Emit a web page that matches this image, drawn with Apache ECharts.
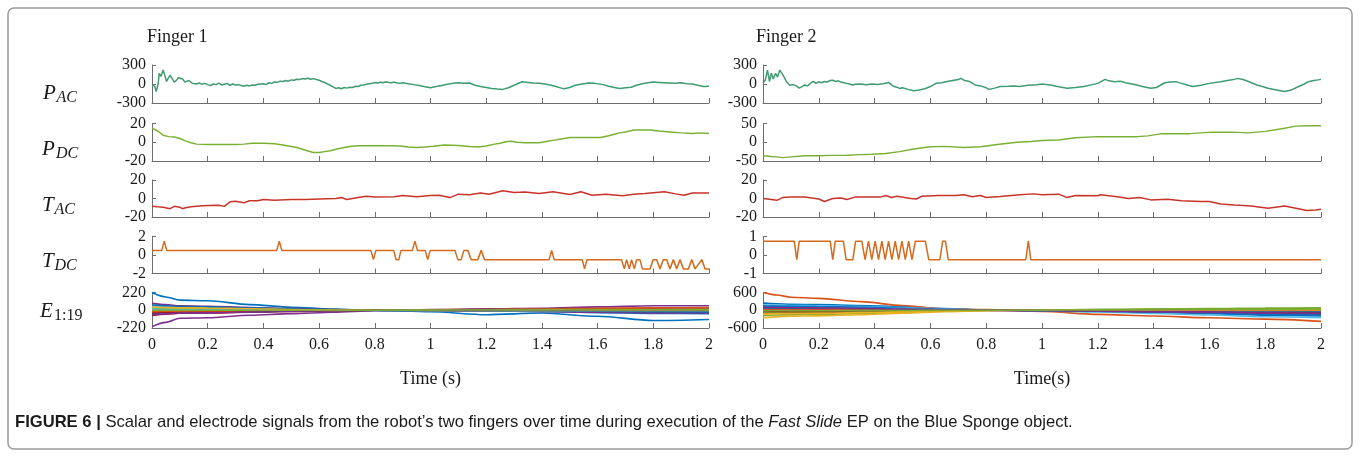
<!DOCTYPE html>
<html>
<head>
<meta charset="utf-8">
<script src="https://cdn.jsdelivr.net/npm/echarts@6.0.0/dist/echarts.min.js"></script>
<style>
  html, body { margin: 0; padding: 0; background: #fff; }
  #chart { width: 1360px; height: 457px; }
</style>
</head>
<body>
<div id="chart"></div>
<script>
// ---- data: [time (s), value] ----
var f1Pac = [[0,0],[0.01,-40],[0.015,-120],[0.022,0],[0.026,170],[0.032,120],[0.04,220],[0.047,120],[0.052,40],[0.058,90],[0.065,140],[0.072,90],[0.08,30],[0.088,60],[0.095,100],[0.102,70],[0.11,80],[0.118,30],[0.125,40],[0.132,55],[0.138,50],[0.145,10],[0.152,20],[0.16,0],[0.17,15],[0.18,-5],[0.19,10],[0.2,-10],[0.21,-25],[0.22,0],[0.23,-10],[0.24,15],[0.25,-15],[0.26,-5],[0.27,10],[0.28,-20],[0.29,0],[0.3,-15],[0.31,-10],[0.32,-25],[0.33,-35],[0.34,-20],[0.35,-30],[0.36,-15],[0.37,-20],[0.38,-5],[0.39,0],[0.4,5],[0.41,-10],[0.42,20],[0.43,10],[0.44,35],[0.45,25],[0.46,45],[0.47,40],[0.48,55],[0.49,45],[0.5,65],[0.51,60],[0.52,75],[0.53,70],[0.54,85],[0.55,80],[0.56,90],[0.57,75],[0.58,85],[0.59,70],[0.6,60],[0.61,40],[0.62,25],[0.63,0],[0.64,-20],[0.65,-45],[0.66,-70],[0.67,-60],[0.68,-75],[0.69,-55],[0.7,-65],[0.71,-50],[0.72,-55],[0.73,-35],[0.74,-40],[0.75,-20],[0.76,-15],[0.77,-5],[0.78,5],[0.79,10],[0.8,25],[0.81,15],[0.82,30],[0.83,20],[0.84,35],[0.85,25],[0.86,20],[0.87,30],[0.88,15],[0.89,10],[0.9,20],[0.92,5],[0.94,-10],[0.96,-25],[0.98,-45],[1.0,-60],[1.02,-40],[1.04,-25],[1.06,-5],[1.08,10],[1.1,20],[1.12,10],[1.14,15],[1.16,-20],[1.18,-40],[1.2,-55],[1.22,-70],[1.24,-80],[1.26,-85],[1.28,-60],[1.3,-20],[1.32,20],[1.33,35],[1.35,25],[1.37,15],[1.39,10],[1.41,0],[1.43,-15],[1.45,-40],[1.47,-65],[1.48,-75],[1.5,-55],[1.52,-20],[1.55,5],[1.57,15],[1.59,10],[1.62,-10],[1.64,-35],[1.66,-55],[1.68,-70],[1.7,-60],[1.72,-50],[1.74,-20],[1.76,5],[1.78,20],[1.8,30],[1.82,25],[1.84,20],[1.86,15],[1.88,10],[1.9,20],[1.92,5],[1.94,0],[1.96,-20],[1.98,-40],[2.0,-35]];

var f1Pdc = [[0,15],[0.02,12],[0.04,7.5],[0.06,6],[0.08,5.5],[0.1,4],[0.12,1.5],[0.14,-0.5],[0.16,-2],[0.2,-2.5],[0.25,-2.5],[0.3,-2.5],[0.33,-2],[0.36,-1],[0.4,-1],[0.44,-1.5],[0.47,-3],[0.5,-4.5],[0.52,-5.6],[0.54,-7.5],[0.56,-9.4],[0.58,-11],[0.6,-11],[0.62,-10],[0.64,-9],[0.66,-7.5],[0.69,-5.5],[0.71,-4.5],[0.74,-3.7],[0.8,-3.7],[0.85,-3.7],[0.89,-4],[0.92,-5],[0.95,-5.6],[0.98,-5],[1.01,-4.2],[1.05,-3],[1.1,-3.5],[1.14,-4.5],[1.17,-5],[1.2,-4],[1.23,-2],[1.25,-1],[1.27,0.5],[1.29,1],[1.31,0],[1.34,-0.5],[1.39,-0.5],[1.42,1],[1.44,2],[1.47,3.5],[1.5,5],[1.55,5],[1.61,5],[1.64,7],[1.66,8.6],[1.68,10],[1.7,11],[1.73,13],[1.76,13],[1.79,13],[1.82,12],[1.86,11],[1.9,10],[1.94,9.4],[1.97,10],[2.0,9.4]];

var f1Tac = [[0,-8.4],[0.02,-9],[0.04,-9.5],[0.065,-11],[0.08,-8.5],[0.1,-9.5],[0.11,-11],[0.12,-10],[0.14,-9],[0.17,-8],[0.2,-7.5],[0.24,-7.3],[0.26,-8.5],[0.28,-3.6],[0.3,-3],[0.33,-4.7],[0.35,-2.5],[0.38,-2.5],[0.4,-1],[0.44,-1.8],[0.5,-1],[0.55,-1.2],[0.6,-0.5],[0.66,0],[0.68,1],[0.7,-1],[0.74,1],[0.77,2.5],[0.8,1.5],[0.87,2],[0.9,3.3],[0.95,2],[1.0,3.3],[1.03,3.6],[1.07,1],[1.1,4.7],[1.14,4],[1.18,6],[1.21,4.5],[1.26,8.4],[1.3,6.5],[1.34,7],[1.39,5.5],[1.44,7.3],[1.5,4.4],[1.54,7.3],[1.58,3.6],[1.63,4.5],[1.69,3],[1.73,4.5],[1.77,5.5],[1.84,7.3],[1.88,5],[1.91,3.6],[1.94,6],[1.97,6],[2.0,6]];

var f1Tdc = [[0,0.5],[0.035,0.5],[0.044,1.5],[0.053,0.5],[0.448,0.5],[0.457,1.5],[0.466,0.5],[0.786,0.5],[0.795,-0.5],[0.804,0.5],[0.868,0.5],[0.876,-0.5],[0.886,-0.5],[0.894,0.5],[0.935,0.5],[0.944,1.5],[0.953,0.5],[0.981,0.5],[0.99,-0.5],[0.999,0.5],[1.088,0.5],[1.098,-0.5],[1.11,-0.5],[1.12,0.5],[1.134,0.5],[1.146,-0.5],[1.17,-0.5],[1.182,0.5],[1.194,-0.5],[1.426,-0.5],[1.435,0.5],[1.444,-0.5],[1.545,-0.5],[1.553,-1.5],[1.562,-0.5],[1.686,-0.5],[1.696,-1.5],[1.704,-0.5],[1.714,-1.5],[1.722,-0.5],[1.732,-1.5],[1.74,-0.5],[1.752,-0.5],[1.761,-1.5],[1.788,-1.5],[1.8,-0.5],[1.812,-0.5],[1.824,-1.5],[1.836,-0.5],[1.848,-0.5],[1.86,-1.5],[1.872,-0.5],[1.884,-1.5],[1.896,-0.5],[1.908,-1.5],[1.926,-1.5],[1.938,-0.5],[1.95,-1.5],[1.974,-0.5],[1.986,-1.5],[2.0,-1.5]];

var f2Pac = [[0,20],[0.008,60],[0.016,220],[0.023,40],[0.03,170],[0.037,80],[0.045,170],[0.052,110],[0.06,220],[0.066,180],[0.072,140],[0.078,90],[0.084,40],[0.09,10],[0.096,-20],[0.102,-40],[0.108,-10],[0.114,0],[0.12,-30],[0.13,-65],[0.14,-40],[0.15,-15],[0.16,-30],[0.17,10],[0.18,40],[0.19,10],[0.2,35],[0.21,20],[0.22,40],[0.23,30],[0.24,55],[0.25,60],[0.26,40],[0.27,50],[0.28,30],[0.29,20],[0.3,10],[0.31,0],[0.32,-15],[0.33,-5],[0.35,0],[0.37,-10],[0.39,0],[0.41,-8],[0.43,5],[0.45,25],[0.46,-10],[0.47,-40],[0.48,-50],[0.49,-70],[0.5,-60],[0.52,-85],[0.54,-105],[0.56,-95],[0.58,-75],[0.6,-40],[0.62,10],[0.64,20],[0.66,40],[0.68,55],[0.7,70],[0.71,90],[0.72,60],[0.74,40],[0.76,-15],[0.78,-30],[0.8,-60],[0.81,-85],[0.83,-65],[0.85,-40],[0.88,-35],[0.9,-30],[0.92,-40],[0.95,-20],[0.98,-10],[1.0,0],[1.03,-15],[1.06,-45],[1.09,-68],[1.12,-55],[1.15,-40],[1.18,-10],[1.2,10],[1.226,73],[1.24,50],[1.26,37],[1.28,45],[1.3,20],[1.34,-15],[1.36,-40],[1.39,-68],[1.41,-55],[1.44,20],[1.46,30],[1.48,37],[1.5,10],[1.52,-15],[1.54,-40],[1.57,-20],[1.6,10],[1.64,37],[1.67,60],[1.69,73],[1.7,89],[1.72,70],[1.74,40],[1.77,-15],[1.79,-40],[1.81,-68],[1.84,-94],[1.87,-120],[1.89,-100],[1.92,-40],[1.94,0],[1.955,37],[1.97,50],[1.99,65],[2.0,73]];

var f2Pdc = [[0,-36],[0.03,-38],[0.05,-39],[0.07,-41],[0.1,-39],[0.15,-36],[0.2,-36],[0.24,-35],[0.3,-34.5],[0.35,-33],[0.39,-32],[0.44,-30],[0.49,-25],[0.54,-18],[0.6,-12],[0.65,-11],[0.72,-14],[0.78,-12],[0.84,-6],[0.91,0],[0.96,2],[1.0,4.5],[1.06,6],[1.12,12],[1.2,15],[1.27,15],[1.34,15],[1.38,17],[1.43,23],[1.53,23],[1.61,27],[1.68,27],[1.74,25],[1.8,29],[1.86,36],[1.91,43],[1.95,44],[2.0,44]];

var f2Tac = [[0,0],[0.03,-1],[0.05,-2],[0.07,1],[0.1,1.5],[0.15,1.5],[0.2,-0.5],[0.22,-3.3],[0.25,0],[0.28,0.5],[0.3,-1],[0.33,1.5],[0.38,1.5],[0.42,1.5],[0.44,3.3],[0.46,1],[0.48,2.5],[0.53,0],[0.55,-0.5],[0.57,2.5],[0.63,3.3],[0.69,3.3],[0.72,4],[0.75,2],[0.78,3.3],[0.8,1],[0.85,2.2],[0.92,4],[0.97,5],[1.0,4],[1.06,4.7],[1.09,1],[1.12,3.3],[1.2,3],[1.21,4],[1.27,2],[1.31,0],[1.35,1],[1.39,-1.5],[1.45,-0.8],[1.5,-2.5],[1.57,-3.3],[1.6,-3.3],[1.64,-6],[1.69,-7],[1.75,-8],[1.81,-10.5],[1.87,-8],[1.91,-10.5],[1.95,-13],[1.98,-12.5],[2.0,-11.5]];

var f2Tdc = [[0,0.75],[0.112,0.75],[0.121,-0.25],[0.13,0.75],[0.241,0.75],[0.25,-0.25],[0.259,0.75],[0.288,0.75],[0.298,-0.25],[0.322,-0.25],[0.332,0.75],[0.354,0.75],[0.366,-0.25],[0.378,0.75],[0.39,-0.25],[0.402,0.75],[0.414,-0.25],[0.426,0.75],[0.438,-0.25],[0.45,0.75],[0.462,-0.25],[0.474,0.75],[0.486,-0.25],[0.498,0.75],[0.51,-0.25],[0.522,0.75],[0.534,-0.25],[0.546,0.75],[0.582,0.75],[0.594,-0.25],[0.634,-0.25],[0.644,0.75],[0.654,0.75],[0.664,-0.25],[0.942,-0.25],[0.951,0.75],[0.96,-0.25],[2.0,-0.25]];

// electrode signals, sampled at elecTime
var elecTime = [0, 0.05, 0.1, 0.2, 0.35, 0.5, 0.65, 0.8, 1.0, 1.2, 1.4, 1.6, 1.8, 2.0];
var f1Elec = [
  [220, 165, 125, 118, 70, 38, 14, 0, -18, -55, -35, -75, -127, -114],
  [20, 15, 12, 10, 8, 5, 2, 0, 3, 8, 12, 18, 25, 28],
  [-10, -8, -5, -4, -2, -1, 0, 0, 2, 5, 8, 10, 12, 14],
  [-203, -150, -100, -93, -62, -42, -25, -5, 8, 17, 25, 42, 55, 55],
  [30, 25, 22, 20, 14, 8, 3, 0, 2, 4, 6, 8, 9, 10],
  [55, 45, 40, 38, 25, 15, 5, 0, -3, -6, -8, -10, -12, -12],
  [-65, -50, -38, -35, -25, -15, -6, 0, -2, -4, -6, -8, -8, -8],
  [-45, -35, -28, -25, -18, -10, -4, 0, -5, -10, -15, -30, -40, -42],
  [5, 4, 3, 3, 2, 1, 0, 0, 5, 10, 15, 25, 30, 32],
  [10, 8, 7, 6, 4, 2, 1, 0, 1, 3, 5, 6, 7, 8],
  [85, 70, 55, 50, 35, 20, 8, 0, -5, -10, -15, -25, -32, -33],
  [-25, -20, -15, -14, -10, -6, -2, 0, 1, 3, 5, 10, 15, 17],
  [15, 12, 10, 9, 6, 3, 1, 0, -2, -4, -5, -6, -6, -5],
  [-35, -28, -22, -20, -14, -8, -3, 0, 2, 4, 5, 6, 6, 6],
  [65, 55, 45, 42, 28, 16, 6, 0, -2, -5, -7, -12, -18, -20],
  [-15, -12, -10, -9, -6, -3, -1, 0, 3, 6, 10, 15, 20, 22],
  [40, 35, 30, 28, 18, 10, 4, 0, -1, -2, -3, -3, -2, -2],
  [-55, -45, -35, -32, -22, -12, -5, 0, 0, 2, 4, 6, 8, 8],
  [0, 0, 0, 0, 0, 0, 0, 0, 2, 4, 5, 6, 7, 8]
];
var f2Elec = [
  [240, 220, 200, 190, 160, 120, 60, 10, -10, -40, -70, -120, -170, -196],
  [600, 515, 440, 400, 290, 160, 45, 20, -40, -140, -196, -255, -300, -375],
  [-100, -90, -80, -75, -55, -35, -15, 0, 5, 10, 15, 18, 20, 22],
  [130, 120, 110, 105, 85, 60, 25, 5, -5, -10, -15, -20, -30, -33],
  [-175, -160, -150, -140, -110, -75, -35, -5, 5, 20, 35, 45, 52, 55],
  [185, 170, 160, 150, 125, 90, 45, 10, -20, -60, -110, -160, -220, -250],
  [-87, -80, -75, -70, -55, -35, -15, 0, -10, -30, -50, -80, -120, -142],
  [150, 140, 130, 125, 100, 70, 35, 5, -10, -30, -55, -90, -140, -160],
  [-40, -35, -30, -28, -20, -12, -5, 0, 0, 2, 3, 5, 6, 6],
  [-250, -225, -200, -190, -150, -100, -50, -10, 5, 15, 20, 22, 22, 22],
  [44, 40, 36, 34, 26, 18, 8, 0, -10, -25, -45, -65, -80, -87],
  [-60, -55, -50, -45, -35, -22, -10, 0, 10, 25, 40, 55, 75, 80],
  [90, 85, 80, 75, 60, 40, 20, 3, -5, -15, -25, -40, -55, -60],
  [-33, -30, -27, -25, -18, -10, -4, 0, -5, -15, -25, -40, -60, -70],
  [60, 55, 50, 48, 38, 25, 12, 2, -5, -12, -20, -30, -40, -45],
  [20, 18, 16, 15, 10, 6, 2, 0, 0, -2, -3, -5, -6, -8],
  [-130, -120, -110, -105, -80, -55, -25, -5, 3, 8, 12, 15, 16, 18],
  [100, 90, 85, 80, 62, 42, 20, 3, -10, -25, -40, -55, -95, -110],
  [-20, -18, -16, -15, -10, -6, -2, 0, 5, 12, 20, 30, 38, 42]
];

// y limits per row: [finger 1, finger 2]
var yLimits = [[300, 300], [20, 50], [20, 20], [2, 1], [220, 600]];
var rowNames = ['P', 'P', 'T', 'T', 'E'];
var rowSubs = ['AC', 'DC', 'AC', 'DC', '1:19'];
var fingerTitles = ['Finger 1', 'Finger 2'];
var timeTitles = ['Time (s)', 'Time(s)'];
var caption = ['FIGURE 6 |', ' Scalar and electrode signals from the robot\u2019s two fingers over time during execution of the ', 'Fast Slide', ' EP on the Blue Sponge object.'];

// ---- layout ----
var SERIF = "'Liberation Serif', 'Times New Roman', serif";
var SANS = "'Liberation Sans', Arial, sans-serif";
var AXIS = '#6e6e6e';
var colLeft = [152, 763];
var colWidth = [557, 558];
var rowTop = [65, 123.5, 180, 236.5, 292.5];
var rowHeight = [38, 37.5, 37, 37, 35.5];
var rowColors = ['#3f9b70', '#7ab034', '#c8342a', '#d56a1c'];
var matlabColors = ['#0072BD', '#D95319', '#EDB120', '#7E2F8E', '#77AC30', '#4DBEEE', '#A2142F'];
var scalars = [[f1Pac, f1Pdc, f1Tac, f1Tdc], [f2Pac, f2Pdc, f2Tac, f2Tdc]];
var elecs = [f1Elec, f2Elec];

var grids = [], xAxes = [], yAxes = [], series = [];

for (var c = 0; c < 2; c++) {
  for (var r = 0; r < 5; r++) {
    var idx = grids.length;
    var bottom = r === 4;
    var lim = yLimits[r][c];
    grids.push({
      left: colLeft[c], top: rowTop[r], width: colWidth[c], height: rowHeight[r],
      outerBoundsMode: 'none', containLabel: false
    });
    xAxes.push({
      gridIndex: idx, type: 'value', min: 0, max: 2, interval: 0.2,
      axisLine: { show: true, onZero: false, lineStyle: { color: AXIS, width: 1 } },
      axisTick: { show: true, inside: true, length: 5, lineStyle: { color: AXIS } },
      axisLabel: { show: bottom, margin: 9, color: '#1a1a1a', fontFamily: SERIF, fontSize: 16 },
      splitLine: { show: false }
    });
    yAxes.push({
      gridIndex: idx, type: 'value', min: -lim, max: lim, interval: lim,
      axisLine: { show: true, onZero: false, lineStyle: { color: AXIS, width: 1 } },
      axisTick: { show: true, inside: true, length: 4, lineStyle: { color: AXIS } },
      axisLabel: { show: true, margin: 6, color: '#1a1a1a', fontFamily: SERIF, fontSize: 16 },
      splitLine: { show: false }
    });
    if (r < 4) {
      series.push({
        type: 'line', xAxisIndex: idx, yAxisIndex: idx, data: scalars[c][r],
        showSymbol: false, symbol: 'none', silent: true,
        lineStyle: { color: rowColors[r], width: 1.5 }, itemStyle: { color: rowColors[r] }
      });
    } else {
      elecs[c].forEach(function (vals, k) {
        var col = matlabColors[k % matlabColors.length];
        series.push({
          type: 'line', xAxisIndex: idx, yAxisIndex: idx,
          data: elecTime.map(function (t, j) { return [t, vals[j]]; }),
          showSymbol: false, symbol: 'none', silent: true, smooth: 0.3, smoothMonotone: 'x',
          lineStyle: { color: col, width: 1.6 }, itemStyle: { color: col }
        });
      });
    }
  }
}

var graphics = [
  { type: 'rect', shape: { x: 8, y: 8, width: 1344, height: 441, r: 6 },
    style: { fill: 'none', stroke: '#9a9a9a', lineWidth: 1.5 }, silent: true }
];
var labelX = [43, 42, 42, 42, 40];
var subX = [56.5, 56, 54.5, 54.5, 54];
var labelY = [93.3, 149, 205.5, 261.7, 311.7];
for (var i = 0; i < 5; i++) {
  graphics.push({ type: 'text', silent: true, style: {
    text: rowNames[i], x: labelX[i], y: labelY[i], textVerticalAlign: 'middle',
    font: 'italic 21px ' + SERIF, fill: '#1a1a1a' } });
  graphics.push({ type: 'text', silent: true, style: {
    text: rowSubs[i], x: subX[i], y: labelY[i] + 4.5, textVerticalAlign: 'middle',
    font: (i === 4 ? '' : 'italic ') + '16px ' + SERIF, fill: '#1a1a1a' } });
}
for (var c2 = 0; c2 < 2; c2++) {
  graphics.push({ type: 'text', silent: true, style: {
    text: fingerTitles[c2], x: [147, 756][c2], y: 37, textVerticalAlign: 'middle',
    font: '18px ' + SERIF, fill: '#1a1a1a' } });
  graphics.push({ type: 'text', silent: true, style: {
    text: timeTitles[c2], x: colLeft[c2] + colWidth[c2] / 2, y: 379, textAlign: 'center',
    textVerticalAlign: 'middle', font: '18px ' + SERIF, fill: '#1a1a1a' } });
}

var chart = echarts.init(document.getElementById('chart'), null, { renderer: 'canvas' });
chart.setOption({
  animation: false,
  backgroundColor: '#fff',
  title: [{
    left: 15, top: 414, padding: 0,
    text: '{b|' + caption[0] + '}' + caption[1] + '{i|' + caption[2] + '}' + caption[3],
    textStyle: {
      fontFamily: SANS, fontSize: 16.6, fontWeight: 'normal', color: '#1a1a1a',
      rich: {
        b: { fontFamily: SANS, fontSize: 16.6, fontWeight: 'bold', color: '#1a1a1a' },
        i: { fontFamily: SANS, fontSize: 16.6, fontStyle: 'italic', color: '#1a1a1a' }
      }
    }
  }],
  grid: grids,
  xAxis: xAxes,
  yAxis: yAxes,
  series: series,
  graphic: graphics
});
</script>
</body>
</html>
